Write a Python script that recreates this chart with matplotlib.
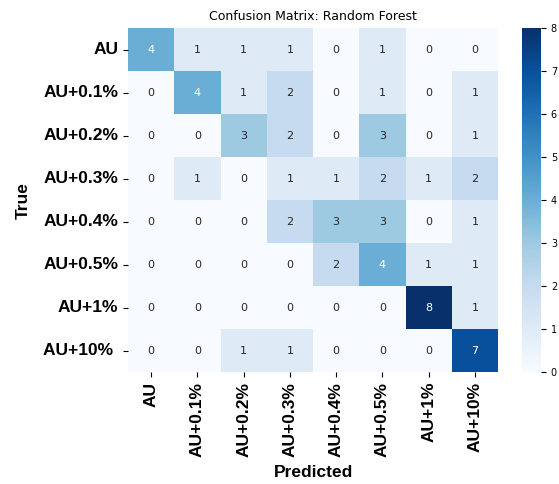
import numpy as np
import matplotlib
matplotlib.use("Agg")
import matplotlib.pyplot as plt
import seaborn as sns

# class labels (y has a trailing space on the last one, as in the source)
x_labels = ["AU", "AU+0.1%", "AU+0.2%", "AU+0.3%", "AU+0.4%", "AU+0.5%", "AU+1%", "AU+10%"]
y_labels = ["AU", "AU+0.1%", "AU+0.2%", "AU+0.3%", "AU+0.4%", "AU+0.5%", "AU+1%", "AU+10% "]

# confusion matrix counts, rows = true, cols = predicted
row_au = [4, 1, 1, 1, 0, 1, 0, 0]
row_01 = [0, 4, 1, 2, 0, 1, 0, 1]
row_02 = [0, 0, 3, 2, 0, 3, 0, 1]
row_03 = [0, 1, 0, 1, 1, 2, 1, 2]
row_04 = [0, 0, 0, 2, 3, 3, 0, 1]
row_05 = [0, 0, 0, 0, 2, 4, 1, 1]
row_1 = [0, 0, 0, 0, 0, 0, 8, 1]
row_10 = [0, 0, 1, 1, 0, 0, 0, 7]
cm = np.array([row_au, row_01, row_02, row_03, row_04, row_05, row_1, row_10])

fig = plt.figure(figsize=(5.59, 4.84), dpi=100)
ax = fig.add_axes([0.229, 0.231, 0.662, 0.711])
cax = fig.add_axes([0.934, 0.231, 0.034, 0.711])

sns.heatmap(cm, annot=True, fmt="d", cmap="Blues", vmin=0, vmax=8,
            ax=ax, cbar_ax=cax, annot_kws={"size": 8})

ax.set_title("Confusion Matrix: Random Forest", fontsize=9)
ax.set_xticklabels(x_labels, rotation=90, fontsize=12.5, fontweight="bold",
                   family="Liberation Sans")
ax.set_yticklabels(y_labels, rotation=0, fontsize=12.5, fontweight="bold",
                   family="Liberation Sans")
ax.set_xlabel("Predicted", fontsize=12.5, fontweight="bold",
              family="Liberation Sans", labelpad=6)
ax.set_ylabel("True", fontsize=12.5, fontweight="bold",
              family="Liberation Sans", labelpad=9)
cax.tick_params(labelsize=7)

fig.savefig("out.png", dpi=100)
